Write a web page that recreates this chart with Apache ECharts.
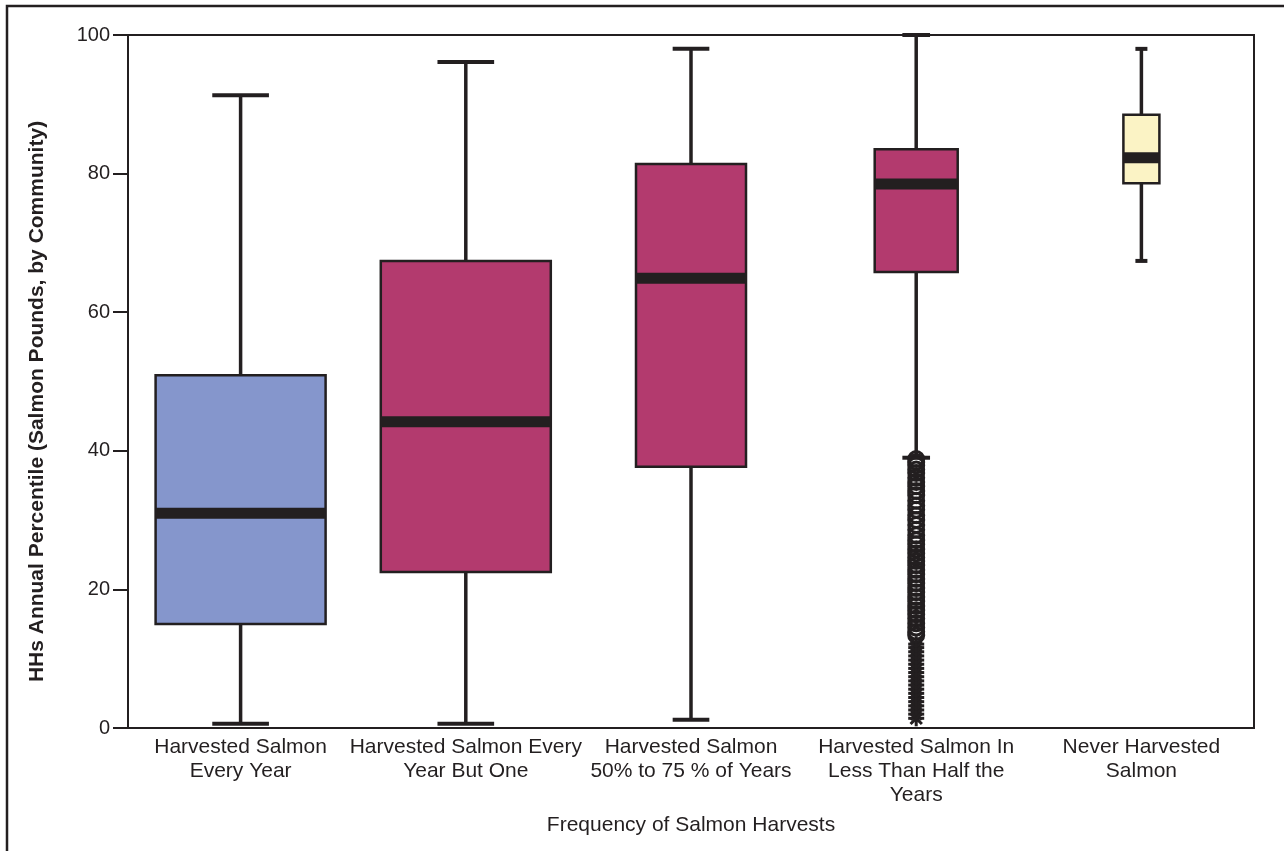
<!DOCTYPE html>
<html>
<head>
<meta charset="utf-8">
<script src="https://cdn.jsdelivr.net/npm/echarts@6/dist/echarts.min.js"></script>
<style>
  html, body { margin: 0; padding: 0; background: #ffffff; }
  #chart { width: 1284px; height: 851px; }
</style>
</head>
<body>
<div id="chart"></div>
<script>
// Harvest-frequency groups along the x axis
const categories = [
  'Harvested Salmon\nEvery Year',
  'Harvested Salmon Every\nYear But One',
  'Harvested Salmon\n50% to 75 % of Years',
  'Harvested Salmon In\nLess Than Half the\nYears',
  'Never Harvested\nSalmon'
];

// Box statistics per group: [lower whisker, Q1, median, Q3, upper whisker]
const lowWhisker  = [0.6, 0.6, 1.2, 39.0, 67.4];
const quartile1   = [15.0, 22.5, 37.7, 65.8, 78.6];
const medians     = [31.0, 44.2, 64.9, 78.5, 82.3];
const quartile3   = [50.9, 67.4, 81.4, 83.5, 88.5];
const highWhisker = [91.3, 96.1, 98.0, 100.0, 98.0];

// Outliers of the "less than half the years" group
const outlierGroup = 3;
const outlierCircles = [
  38.8, 38.4, 37.9, 37.3, 36.8, 36.1, 35.5, 34.9, 34.2, 33.6, 32.8, 32.1,
  31.5, 30.7, 30.0, 29.3, 28.6, 27.8, 27.1, 26.5, 25.8, 25.2, 24.6, 24.1,
  23.5, 22.8, 22.2, 21.5, 20.9, 20.2, 19.6, 18.9, 18.3, 17.6, 17.0, 16.4,
  15.8, 15.1, 14.5, 13.9, 13.4
];
const outlierExtremes = [
  12.1, 11.6, 11.0, 10.4, 9.8, 9.2, 8.6, 8.0, 7.4, 6.8, 6.2, 5.6,
  5.0, 4.4, 3.8, 3.2, 2.6, 2.0, 1.4
];

// Y axis ticks
const yMin = 0, yMax = 100, yStep = 20;

// Styling
const ink = '#231F20';
const fontFamily = 'Liberation Sans, Arial, sans-serif';
const boxFills = ['#8596CC', '#B33A6E', '#B33A6E', '#B33A6E', '#FBF3C5'];
const boxPixelWidths = [170, 170, 110, 83, 36];

const boxData = categories.map((c, i) => [i, lowWhisker[i], quartile1[i], medians[i], quartile3[i], highWhisker[i]]);
const circleData = outlierCircles.map(v => [outlierGroup, v]);
const extremeData = outlierExtremes.map(v => [outlierGroup, v]);

function renderBox(params, api) {
  const idx = api.value(0);
  const cx = api.coord([idx, 0])[0];
  const yLow = api.coord([idx, api.value(1)])[1];
  const yQ1 = api.coord([idx, api.value(2)])[1];
  const yMed = api.coord([idx, api.value(3)])[1];
  const yQ3 = api.coord([idx, api.value(4)])[1];
  const yHigh = api.coord([idx, api.value(5)])[1];
  const w = boxPixelWidths[idx];
  const capW = w / 3;
  return {
    type: 'group',
    children: [
      { type: 'line', shape: { x1: cx, y1: yHigh, x2: cx, y2: yLow }, style: { stroke: ink, lineWidth: 3.5 } },
      { type: 'line', shape: { x1: cx - capW / 2, y1: yHigh, x2: cx + capW / 2, y2: yHigh }, style: { stroke: ink, lineWidth: 4 } },
      { type: 'line', shape: { x1: cx - capW / 2, y1: yLow, x2: cx + capW / 2, y2: yLow }, style: { stroke: ink, lineWidth: 4 } },
      { type: 'rect', shape: { x: cx - w / 2, y: yQ3, width: w, height: yQ1 - yQ3 }, style: { fill: boxFills[idx], stroke: ink, lineWidth: 2.5 } },
      { type: 'line', shape: { x1: cx - w / 2, y1: yMed, x2: cx + w / 2, y2: yMed }, style: { stroke: ink, lineWidth: 11 } }
    ]
  };
}

function renderCircle(params, api) {
  const p = api.coord([api.value(0), api.value(1)]);
  return { type: 'circle', shape: { cx: p[0], cy: p[1], r: 7.5 }, style: { fill: 'none', stroke: ink, lineWidth: 3 } };
}

function renderStar(params, api) {
  const p = api.coord([api.value(0), api.value(1)]);
  const r = 8, d = r * 0.7071;
  const segs = [[0, -r, 0, r], [-r, 0, r, 0], [-d, -d, d, d], [-d, d, d, -d]];
  return {
    type: 'group',
    children: segs.map(s => ({
      type: 'line',
      shape: { x1: p[0] + s[0], y1: p[1] + s[1], x2: p[0] + s[2], y2: p[1] + s[3] },
      style: { stroke: ink, lineWidth: 3 }
    }))
  };
}

const chart = echarts.init(document.getElementById('chart'), null, { renderer: 'canvas' });
chart.setOption({
  backgroundColor: '#ffffff',
  animation: false,
  textStyle: { fontFamily: fontFamily, color: ink },
  graphic: [{
    type: 'rect',
    shape: { x: 7, y: 6, width: 1400, height: 1000 },
    style: { fill: 'none', stroke: ink, lineWidth: 2.5 },
    silent: true
  }],
  grid: {
    left: 128, right: 30, top: 35, bottom: 123,
    show: true, borderColor: ink, borderWidth: 2, backgroundColor: 'transparent'
  },
  xAxis: {
    type: 'category',
    data: categories,
    boundaryGap: true,
    name: 'Frequency of Salmon Harvests',
    nameLocation: 'middle',
    nameGap: 87,
    nameTextStyle: { fontSize: 21, color: ink, fontFamily: fontFamily },
    axisLine: { show: true, lineStyle: { color: ink, width: 2 } },
    axisTick: { show: false },
    axisLabel: { fontSize: 21, lineHeight: 24, color: ink, margin: 7, interval: 0, align: 'center', fontFamily: fontFamily },
    splitLine: { show: false }
  },
  yAxis: {
    type: 'value',
    min: yMin, max: yMax, interval: yStep,
    name: 'HHs Annual Percentile (Salmon Pounds, by Community)',
    nameLocation: 'middle',
    nameGap: 80,
    nameTextStyle: { fontSize: 21, fontWeight: 'bold', color: ink, fontFamily: fontFamily, padding: [0, 40, 0, 0] },
    axisLine: { show: true, lineStyle: { color: ink, width: 2 } },
    axisTick: { show: true, length: 15, lineStyle: { color: ink, width: 2 } },
    axisLabel: { fontSize: 20, color: ink, margin: 18, fontFamily: fontFamily },
    splitLine: { show: false }
  },
  series: [
    { type: 'custom', renderItem: renderBox, data: boxData, z: 3 },
    { type: 'custom', renderItem: renderCircle, data: circleData, z: 4 },
    { type: 'custom', renderItem: renderStar, data: extremeData, z: 4 }
  ]
});
</script>
</body>
</html>
